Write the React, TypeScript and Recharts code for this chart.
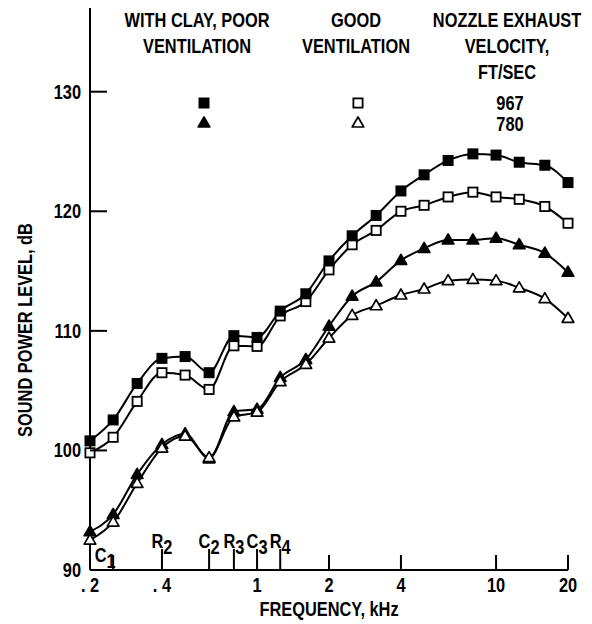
import { LineChart, Line, XAxis, YAxis, Legend } from 'recharts';

// 1/3-octave band centre frequencies, kHz
const frequencies = [0.2, 0.25, 0.315, 0.4, 0.5, 0.63, 0.8, 1, 1.25, 1.6, 2, 2.5, 3.15, 4, 5, 6.3, 8, 10, 12.5, 16, 20];

// sound power level, dB
const clayPoor967 = [100.8, 102.55, 105.6, 107.7, 107.85, 106.5, 109.6, 109.45, 111.65, 113.1, 115.85, 117.95, 119.65, 121.7, 123.05, 124.25, 124.8, 124.7, 124.1, 123.85, 122.4];
const goodVent967 = [99.8, 101.1, 104.1, 106.5, 106.3, 105.1, 108.75, 108.7, 111.25, 112.45, 115.1, 117.2, 118.4, 120.0, 120.5, 121.2, 121.6, 121.2, 121.0, 120.4, 119.0];
const clayPoor780 = [93.2, 94.65, 98.0, 100.5, 101.4, 99.3, 103.25, 103.45, 106.1, 107.6, 110.4, 112.9, 114.1, 115.9, 116.9, 117.6, 117.6, 117.75, 117.2, 116.5, 114.9];
const goodVent780 = [92.5, 94.0, 97.25, 100.2, 101.2, 99.4, 102.8, 103.2, 105.75, 107.2, 109.4, 111.3, 112.1, 113.0, 113.5, 114.2, 114.3, 114.2, 113.6, 112.7, 111.05];

const freqTicks = [0.2, 0.25, 0.4, 0.63, 0.8, 1, 1.25, 2, 4, 10, 20];
const freqTickLabels = ['. 2', '', '. 4', '', '', '1', '', '2', '4', '10', '20'];
// room mode markers above the axis (letter + subscript)
const roomLetters = ['', 'C', 'R', 'C', 'R', 'C', 'R', '', '', '', ''];
const roomIndices = ['', '1', '2', '2', '3', '3', '4', '', '', '', ''];

const levelTicks = [90, 100, 110, 120, 130];

const columnHeads = [
  ['WITH CLAY, POOR', 'VENTILATION'],
  ['GOOD', 'VENTILATION'],
  ['NOZZLE EXHAUST', 'VELOCITY,', 'FT/SEC'],
];
const velocities = ['967', '780'];

const FONT = '"Liberation Sans", Arial, sans-serif';
const SQUEEZE = 0.82; // the original lettering is a condensed face

const chartData = frequencies.map((f, i) => ({
  f,
  clay967: clayPoor967[i],
  good967: goodVent967[i],
  clay780: clayPoor780[i],
  good780: goodVent780[i],
}));

const seriesList = [
  { key: 'clay780', shape: 'triangle', filled: true },
  { key: 'good780', shape: 'triangle', filled: false },
  { key: 'good967', shape: 'square', filled: false },
  { key: 'clay967', shape: 'square', filled: true },
];

// condensed text: draw at origin, then squeeze horizontally
function CText({ x, y, anchor = 'middle', rotate = 0, children }: any) {
  return (
    <text
      transform={`translate(${x},${y}) rotate(${rotate}) scale(${SQUEEZE},1)`}
      textAnchor={anchor}
      fontFamily={FONT}
      fontWeight="bold"
      fontSize={20}
      fill="#000"
    >
      {children}
    </text>
  );
}

function Marker({ cx, cy, shape, filled }: any) {
  if (cx == null || cy == null) return null;
  const fill = filled ? '#000' : '#fff';
  if (shape === 'square') {
    return <rect x={cx - 4.6} y={cy - 4.6} width={9.2} height={9.2} fill={fill} stroke="#000" strokeWidth={1.8} />;
  }
  return (
    <polygon
      points={`${cx},${cy - 6} ${cx + 5.8},${cy + 4} ${cx - 5.8},${cy + 4}`}
      fill={fill}
      stroke="#000"
      strokeWidth={1.7}
      strokeLinejoin="round"
    />
  );
}

function FreqTick({ x, y, payload }: any) {
  const i = freqTicks.indexOf(payload.value);
  const room = roomLetters[i];
  const len = i === 0 ? 0 : room && roomIndices[i] !== '1' ? 21 : 15;
  // C1 sits lower and to the left, clear of the triangles
  const nudge = room === 'C' && roomIndices[i] === '1' ? [-8, 14] : [0, 0];
  return (
    <g>
      {len > 0 && <line x1={x} y1={y} x2={x} y2={y - len} stroke="#000" strokeWidth={2} />}
      {freqTickLabels[i] && <CText x={x} y={y + 22}>{freqTickLabels[i]}</CText>}
      {room && (
        <CText x={x + nudge[0]} y={y - 22 + nudge[1]}>
          {room}
          <tspan dy={6}>{roomIndices[i]}</tspan>
        </CText>
      )}
    </g>
  );
}

function LevelTick({ x, y, payload }: any) {
  return (
    <g>
      {payload.value !== levelTicks[0] && <line x1={x} y1={y} x2={x + 17} y2={y} stroke="#000" strokeWidth={2} />}
      <CText x={x - 9} y={y + 7} anchor="end">{payload.value}</CText>
    </g>
  );
}

function LegendBlock() {
  const headX = [189, 348, 499];
  return (
    <svg width={576} height={130} style={{ display: 'block', overflow: 'visible' }}>
      {columnHeads.map((lines, c) =>
        lines.map((t, r) => (
          <CText key={`${c}-${r}`} x={headX[c]} y={19 + r * 26}>{t}</CText>
        ))
      )}
      {velocities.map((v, r) => (
        <CText key={v} x={502} y={102 + r * 21}>{v}</CText>
      ))}
      <Marker cx={196} cy={95} shape="square" filled />
      <Marker cx={350} cy={95} shape="square" filled={false} />
      <Marker cx={196} cy={115} shape="triangle" filled />
      <Marker cx={350} cy={115} shape="triangle" filled={false} />
    </svg>
  );
}

export default function App() {
  return (
    <div style={{ width: 576, height: 616, background: '#fff' }}>
      <LineChart width={576} height={616} data={chartData} margin={{ top: 0, right: 16, bottom: 0, left: 0 }}>
        <XAxis
          dataKey="f"
          type="number"
          scale="log"
          domain={[0.2, 20]}
          ticks={freqTicks}
          interval={0}
          height={54}
          tickSize={0}
          tickMargin={0}
          tickLine={false}
          tick={<FreqTick />}
          axisLine={{ stroke: '#000', strokeWidth: 2 }}
          label={({ viewBox }: any) => (
            <CText x={viewBox.x + viewBox.width / 2} y={viewBox.y + 46}>FREQUENCY, kHz</CText>
          )}
        />
        <YAxis
          type="number"
          domain={[90, 137]}
          ticks={levelTicks}
          interval={0}
          width={82}
          tickSize={0}
          tickMargin={0}
          tickLine={false}
          tick={<LevelTick />}
          axisLine={{ stroke: '#000', strokeWidth: 2 }}
          label={() => (
            <CText x={24} y={322} rotate={-90}>SOUND POWER LEVEL, dB</CText>
          )}
        />
        <Legend
          verticalAlign="middle"
          align="center"
          layout="horizontal"
          wrapperStyle={{ top: 0, left: 0, width: 576, height: 130 }}
          content={() => <LegendBlock />}
        />
        {seriesList.map((s) => (
          <Line
            key={s.key}
            dataKey={s.key}
            type="monotone"
            stroke="#000"
            strokeWidth={2}
            isAnimationActive={false}
            dot={(p: any) => <Marker key={`${s.key}-${p.index}`} cx={p.cx} cy={p.cy} shape={s.shape} filled={s.filled} />}
            activeDot={false}
          />
        ))}
      </LineChart>
    </div>
  );
}
